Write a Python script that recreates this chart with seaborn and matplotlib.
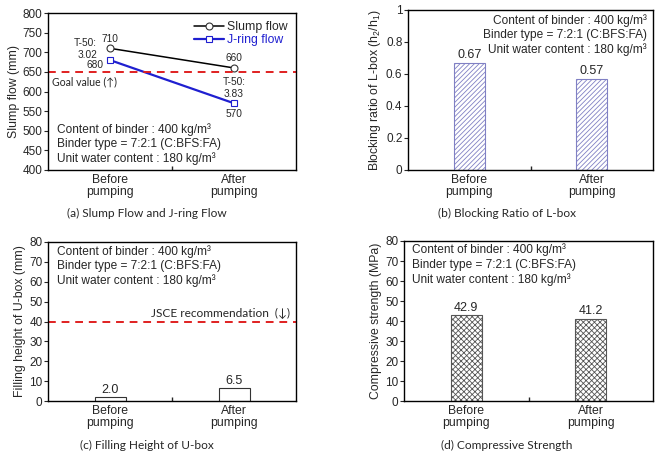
import matplotlib
matplotlib.use("Agg")
import matplotlib.pyplot as plt
import seaborn as sns
import pandas as pd
from matplotlib.ticker import MultipleLocator, FixedLocator

sns.set_theme(style="white")
plt.rcParams['font.family'] = ['Liberation Sans', 'DejaVu Sans']
plt.rcParams['mathtext.fontset'] = 'custom'
plt.rcParams['mathtext.rm'] = 'Liberation Sans'
plt.rcParams['mathtext.it'] = 'Liberation Sans:italic'
plt.rcParams['hatch.linewidth'] = 0.6

stages = ["Before\npumping", "After\npumping"]
slump_flow = [710, 660]
jring_flow = [680, 570]
t50 = ["3.02", "3.83"]
goal_value = 650
blocking_ratio = [0.67, 0.57]
filling_height = [2.0, 6.5]
jsce_value = 40
compressive = [42.9, 41.2]
info_lines = ["Content of binder : 400 kg/m³",
              "Binder type = 7:2:1 (C:BFS:FA)",
              "Unit water content : 180 kg/m³"]
captions = ["(a) Slump Flow and J-ring Flow", "(b) Blocking Ratio of L-box",
            "(c) Filling Height of U-box", "(d) Compressive Strength"]

W, H = 656, 451
fig = plt.figure(figsize=(W / 100, H / 100), dpi=100)

def add_ax(l, t, r, b):
    return fig.add_axes([l / W, (H - b) / H, (r - l) / W, (b - t) / H])

axA = add_ax(48, 13, 296, 170)
axB = add_ax(408, 10, 653, 170)
axC = add_ax(48, 242, 296, 401)
axD = add_ax(404, 241, 653, 401)

TICK = 8.5
INFO = 8.6
CAPFONT = ['Lato', 'DejaVu Sans']

def style(ax):
    for s in ax.spines.values():
        s.set_color('black')
        s.set_linewidth(1.0)
        s.set_visible(True)
    ax.set_xlim(-0.5, 1.5)
    ax.set_xticks([0, 1])
    ax.set_xticklabels(stages, fontsize=8.8, linespacing=0.95)
    ax.tick_params(axis='x', which='major', length=0, pad=3)
    ax.xaxis.set_minor_locator(FixedLocator([0.5]))
    ax.tick_params(axis='x', which='minor', direction='in', length=3, width=1, bottom=True)
    ax.tick_params(axis='y', which='major', direction='out', length=3, width=0.8,
                   labelsize=TICK, pad=1, left=True)
    ax.set_xlabel('')
    ax.grid(False)

# (a) line chart
df_s = pd.DataFrame({"stage": stages, "value": slump_flow})
df_j = pd.DataFrame({"stage": stages, "value": jring_flow})
sns.lineplot(data=df_s, x="stage", y="value", ax=axA, color='black', lw=1.1,
             marker='o', markersize=5, markerfacecolor='white', markeredgecolor='#333333',
             markeredgewidth=0.8, sort=False, label='Slump flow')
sns.lineplot(data=df_j, x="stage", y="value", ax=axA, color='#1f1fd0', lw=1.6,
             marker='s', markersize=5, markerfacecolor='white', markeredgecolor='#1f1fd0',
             markeredgewidth=0.8, sort=False, label='J-ring flow')
axA.axhline(goal_value, color='#e02020', ls=(0, (4, 3)), lw=1.4)
axA.set_ylim(400, 800)
axA.yaxis.set_major_locator(MultipleLocator(50))
style(axA)
axA.set_ylabel("Slump flow (mm)", fontsize=8.8, labelpad=2)
leg = axA.legend(loc='upper right', bbox_to_anchor=(1.0, 1.0), frameon=False, fontsize=8.8,
                 handlelength=2.4, handletextpad=0.3, labelspacing=0.1, borderaxespad=0.25)
leg.get_texts()[1].set_color('#1f1fd0')
fs_lbl = 7.3
axA.text(0, slump_flow[0] + 12, str(slump_flow[0]), ha='center', va='bottom', fontsize=fs_lbl)
axA.text(-0.105, slump_flow[0] - 2, "T-50:\n" + t50[0], ha='right', va='center', fontsize=fs_lbl,
         linespacing=1.25, multialignment='right')
axA.text(-0.12, jring_flow[0] - 12, str(jring_flow[0]), ha='center', va='center', fontsize=fs_lbl)
axA.text(1, slump_flow[1] + 12, str(slump_flow[1]), ha='center', va='bottom', fontsize=fs_lbl)
axA.text(1, slump_flow[1] - 52, "T-50:\n" + t50[1], ha='center', va='center', fontsize=fs_lbl,
         linespacing=1.25)
axA.text(1, jring_flow[1] - 14, str(jring_flow[1]), ha='center', va='top', fontsize=fs_lbl)
axA.text(-0.47, goal_value - 10, "Goal value (↑)", ha='left', va='top', fontsize=7.6, family=CAPFONT)
for i, ln in enumerate(info_lines):
    axA.text(-0.43, 502 - i * 36, ln, ha='left', va='center', fontsize=INFO)

# (b) blocking ratio
sns.barplot(x=stages, y=blocking_ratio, ax=axB, width=0.25, color='white', saturation=1,
            edgecolor='#8080c4', linewidth=0.8, hatch='///////')
axB.set_ylim(0, 1)
axB.set_yticks([0, 0.2, 0.4, 0.6, 0.8, 1.0])
axB.set_yticklabels(["0", "0.2", "0.4", "0.6", "0.8", "1"])
style(axB)
axB.set_ylabel("Blocking ratio of L-box (h$_2$/h$_1$)", fontsize=8.8, labelpad=2)
axB.bar_label(axB.containers[0], fmt='%.2f', fontsize=9, padding=1)
for i, ln in enumerate(info_lines):
    axB.text(1.45, 0.935 - i * 0.09, ln, ha='right', va='center', fontsize=INFO)

# (c) filling height
sns.barplot(x=stages, y=filling_height, ax=axC, width=0.25, color='white', saturation=1,
            edgecolor='#333333', linewidth=0.8)
axC.axhline(jsce_value, color='#e02020', ls=(0, (4, 3)), lw=1.4)
axC.set_ylim(0, 80)
axC.yaxis.set_major_locator(MultipleLocator(10))
style(axC)
axC.set_ylabel("Filling height of U-box (mm)", fontsize=8.8, labelpad=2)
axC.bar_label(axC.containers[0], fmt='%.1f', fontsize=9, padding=1)
axC.text(1.45, jsce_value + 1.5, "JSCE recommendation  (↓)", ha='right', va='bottom',
         fontsize=8.6, family=CAPFONT)
for i, ln in enumerate(info_lines):
    axC.text(-0.43, 75 - i * 7.3, ln, ha='left', va='center', fontsize=INFO)

# (d) compressive strength
sns.barplot(x=stages, y=compressive, ax=axD, width=0.25, color='white', saturation=1,
            edgecolor='#555555', linewidth=0.8, hatch='xxxxxx')
axD.set_ylim(0, 80)
axD.yaxis.set_major_locator(MultipleLocator(10))
style(axD)
axD.set_ylabel("Compressive strength (MPa)", fontsize=8.8, labelpad=2)
axD.bar_label(axD.containers[0], fmt='%.1f', fontsize=9, padding=1)
for i, ln in enumerate(info_lines):
    axD.text(-0.435, 75.5 - i * 7.3, ln, ha='left', va='center', fontsize=INFO)

# captions
cap_pos = [(147, 213), (507, 213), (147, 445), (507, 445)]
for (x, y), c in zip(cap_pos, captions):
    fig.text(x / W, 1 - y / H, c, ha='center', va='center', fontsize=8.6, family=CAPFONT)

fig.savefig("out.png", dpi=100)
